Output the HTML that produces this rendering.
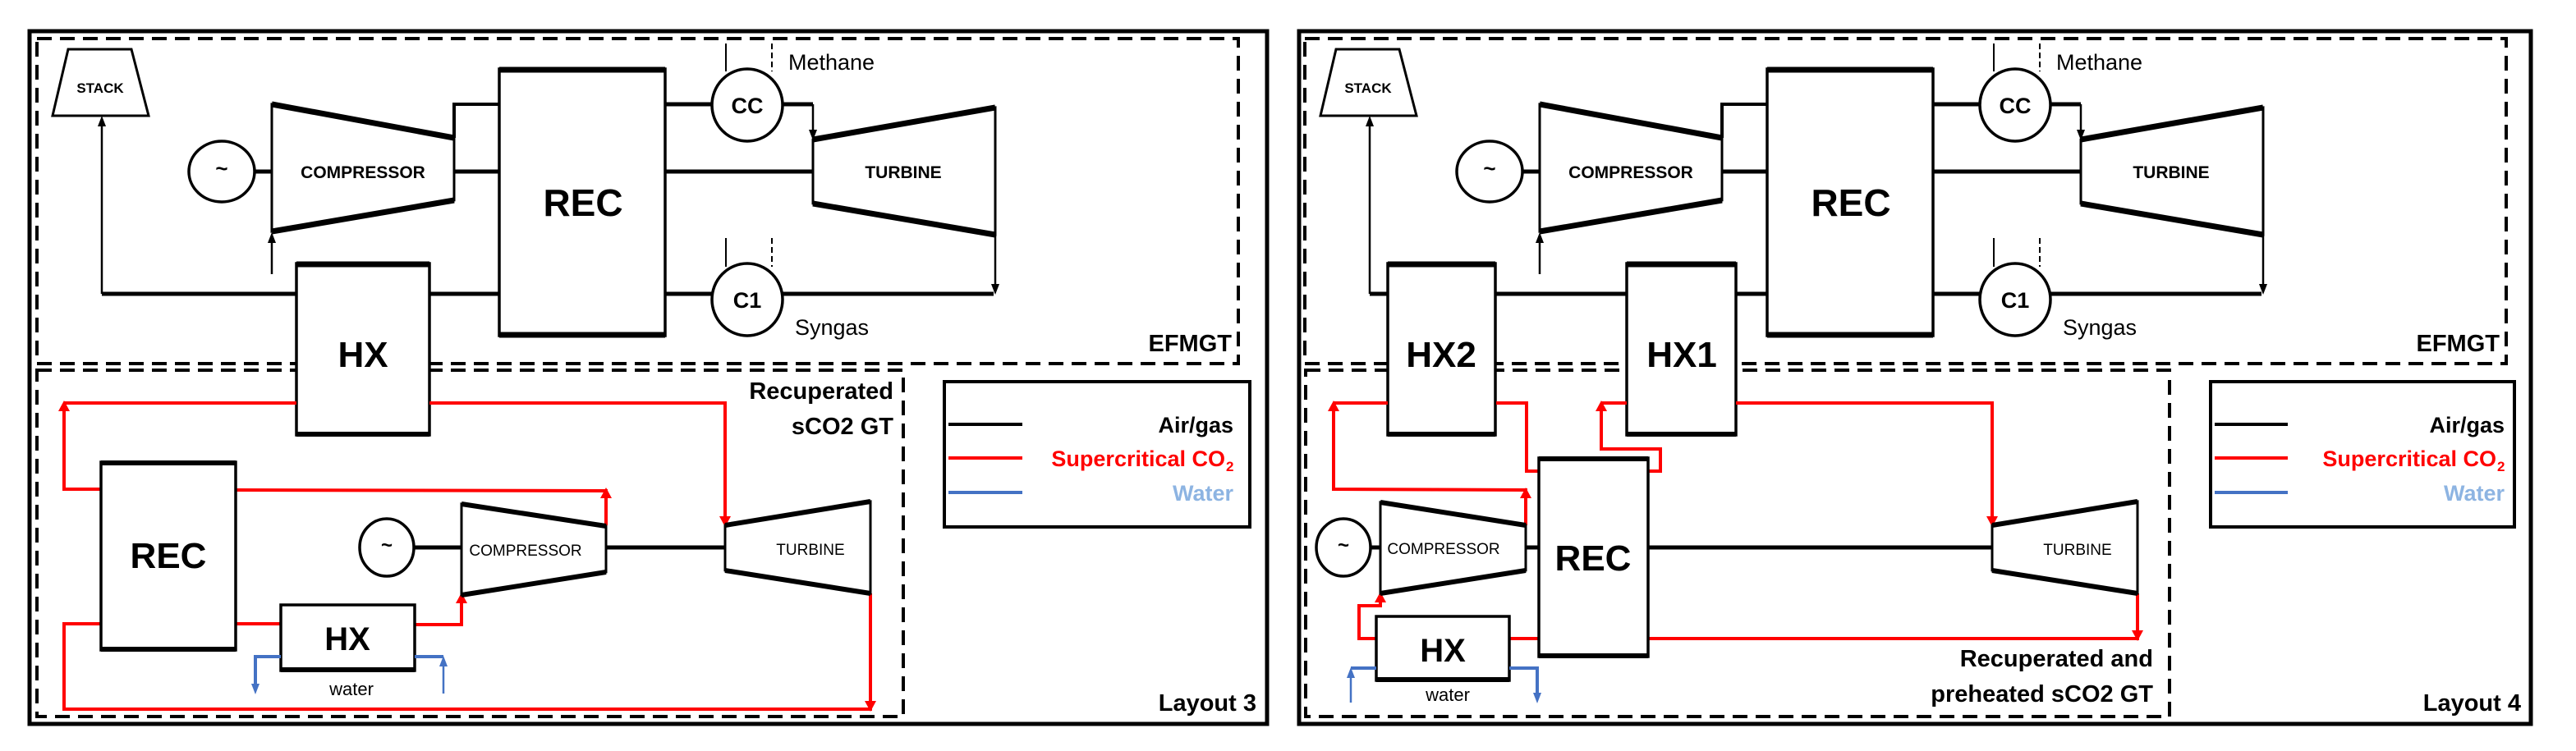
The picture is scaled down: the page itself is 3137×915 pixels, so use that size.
<!DOCTYPE html>
<html><head><meta charset="utf-8"><style>
html,body{margin:0;padding:0;background:#fff;}
svg{display:block;}
text{font-family:"Liberation Sans Narrow","Liberation Sans",sans-serif;}
.b{font-weight:bold;}
</style></head><body>
<svg width="3137" height="915" viewBox="0 0 3137 915" xmlns="http://www.w3.org/2000/svg">
<rect x="0" y="0" width="3137" height="915" fill="#fff"/>

<g transform="translate(0,0)">
 <rect x="45" y="47" width="1463" height="396" fill="none" stroke="#000" stroke-width="4" stroke-dasharray="18 10"/>
 <polygon points="83,60 160,60 181,141 64,141" fill="#fff" stroke="#000" stroke-width="3"/>
 <text x="122" y="113" font-size="17" class="b" text-anchor="middle">STACK</text>
 <line x1="124" y1="358" x2="124" y2="152" stroke="#000" stroke-width="2.5"/>
 <polygon points="124,141 119,154 129,154" fill="#000"/>
 <ellipse cx="270" cy="209" rx="40" ry="37" fill="#fff" stroke="#000" stroke-width="3.5"/>
 <text x="270" y="214" font-size="26" class="b" text-anchor="middle">~</text>
 <line x1="310" y1="209" x2="331" y2="209" stroke="#000" stroke-width="5"/>
 <polygon points="331,127 553,168 553,244 331,282" fill="#fff" stroke="#000" stroke-width="3"/>
 <line x1="331" y1="127" x2="553" y2="168" stroke="#000" stroke-width="7"/>
 <line x1="331" y1="282" x2="553" y2="244" stroke="#000" stroke-width="7"/>
 <text x="442" y="217" font-size="21" class="b" text-anchor="middle">COMPRESSOR</text>
 <line x1="331" y1="334" x2="331" y2="294" stroke="#000" stroke-width="2.5"/>
 <polygon points="331,283 326,296 336,296" fill="#000"/>
 <polyline points="553,168 553,127 608,127" fill="none" stroke="#000" stroke-width="4"/>
 <line x1="553" y1="209" x2="608" y2="209" stroke="#000" stroke-width="5"/>
 <rect x="608" y="84" width="202" height="325" fill="#fff" stroke="#000" stroke-width="3.5"/>
 <line x1="608" y1="85" x2="810" y2="85" stroke="#000" stroke-width="7"/>
 <line x1="608" y1="408" x2="810" y2="408" stroke="#000" stroke-width="7"/>
 <text x="710" y="263" font-size="46" class="b" text-anchor="middle">REC</text>
 <line x1="810" y1="127" x2="868" y2="127" stroke="#000" stroke-width="5"/>
 <line x1="952" y1="127" x2="990" y2="127" stroke="#000" stroke-width="5"/>
 <line x1="990" y1="127" x2="990" y2="160" stroke="#000" stroke-width="2.5"/>
 <polygon points="990,171 985,158 995,158" fill="#000"/>
 <ellipse cx="910" cy="128" rx="43" ry="44" fill="#fff" stroke="#000" stroke-width="3.5"/>
 <text x="910" y="138" font-size="27" class="b" text-anchor="middle">CC</text>
 <line x1="884" y1="53" x2="884" y2="87" stroke="#000" stroke-width="2"/>
 <line x1="940" y1="53" x2="940" y2="87" stroke="#000" stroke-width="2" stroke-dasharray="7 4"/>
 <text x="960" y="85" font-size="27">Methane</text>
 <polygon points="990,170 1212,131 1212,286 990,248" fill="#fff" stroke="#000" stroke-width="3"/>
 <line x1="990" y1="170" x2="1212" y2="131" stroke="#000" stroke-width="7"/>
 <line x1="990" y1="248" x2="1212" y2="286" stroke="#000" stroke-width="7"/>
 <text x="1100" y="217" font-size="21" class="b" text-anchor="middle">TURBINE</text>
 <line x1="810" y1="209" x2="990" y2="209" stroke="#000" stroke-width="5"/>
 <line x1="1212" y1="286" x2="1212" y2="348" stroke="#000" stroke-width="2.5"/>
 <polygon points="1212,359 1207,346 1217,346" fill="#000"/>
 <line x1="810" y1="358" x2="868" y2="358" stroke="#000" stroke-width="5"/>
 <line x1="952" y1="358" x2="1210" y2="358" stroke="#000" stroke-width="5"/>
 <ellipse cx="910" cy="365" rx="43" ry="44" fill="#fff" stroke="#000" stroke-width="3.5"/>
 <text x="910" y="375" font-size="27" class="b" text-anchor="middle">C1</text>
 <line x1="884" y1="290" x2="884" y2="325" stroke="#000" stroke-width="2"/>
 <line x1="940" y1="290" x2="940" y2="325" stroke="#000" stroke-width="2" stroke-dasharray="7 4"/>
 <text x="968" y="408" font-size="27">Syngas</text>
 <text x="1500" y="428" font-size="29" class="b" text-anchor="end">EFMGT</text>
</g>

<g transform="translate(1544,0)">
 <rect x="45" y="47" width="1463" height="396" fill="none" stroke="#000" stroke-width="4" stroke-dasharray="18 10"/>
 <polygon points="83,60 160,60 181,141 64,141" fill="#fff" stroke="#000" stroke-width="3"/>
 <text x="122" y="113" font-size="17" class="b" text-anchor="middle">STACK</text>
 <line x1="124" y1="358" x2="124" y2="152" stroke="#000" stroke-width="2.5"/>
 <polygon points="124,141 119,154 129,154" fill="#000"/>
 <ellipse cx="270" cy="209" rx="40" ry="37" fill="#fff" stroke="#000" stroke-width="3.5"/>
 <text x="270" y="214" font-size="26" class="b" text-anchor="middle">~</text>
 <line x1="310" y1="209" x2="331" y2="209" stroke="#000" stroke-width="5"/>
 <polygon points="331,127 553,168 553,244 331,282" fill="#fff" stroke="#000" stroke-width="3"/>
 <line x1="331" y1="127" x2="553" y2="168" stroke="#000" stroke-width="7"/>
 <line x1="331" y1="282" x2="553" y2="244" stroke="#000" stroke-width="7"/>
 <text x="442" y="217" font-size="21" class="b" text-anchor="middle">COMPRESSOR</text>
 <line x1="331" y1="334" x2="331" y2="294" stroke="#000" stroke-width="2.5"/>
 <polygon points="331,283 326,296 336,296" fill="#000"/>
 <polyline points="553,168 553,127 608,127" fill="none" stroke="#000" stroke-width="4"/>
 <line x1="553" y1="209" x2="608" y2="209" stroke="#000" stroke-width="5"/>
 <rect x="608" y="84" width="202" height="325" fill="#fff" stroke="#000" stroke-width="3.5"/>
 <line x1="608" y1="85" x2="810" y2="85" stroke="#000" stroke-width="7"/>
 <line x1="608" y1="408" x2="810" y2="408" stroke="#000" stroke-width="7"/>
 <text x="710" y="263" font-size="46" class="b" text-anchor="middle">REC</text>
 <line x1="810" y1="127" x2="868" y2="127" stroke="#000" stroke-width="5"/>
 <line x1="952" y1="127" x2="990" y2="127" stroke="#000" stroke-width="5"/>
 <line x1="990" y1="127" x2="990" y2="160" stroke="#000" stroke-width="2.5"/>
 <polygon points="990,171 985,158 995,158" fill="#000"/>
 <ellipse cx="910" cy="128" rx="43" ry="44" fill="#fff" stroke="#000" stroke-width="3.5"/>
 <text x="910" y="138" font-size="27" class="b" text-anchor="middle">CC</text>
 <line x1="884" y1="53" x2="884" y2="87" stroke="#000" stroke-width="2"/>
 <line x1="940" y1="53" x2="940" y2="87" stroke="#000" stroke-width="2" stroke-dasharray="7 4"/>
 <text x="960" y="85" font-size="27">Methane</text>
 <polygon points="990,170 1212,131 1212,286 990,248" fill="#fff" stroke="#000" stroke-width="3"/>
 <line x1="990" y1="170" x2="1212" y2="131" stroke="#000" stroke-width="7"/>
 <line x1="990" y1="248" x2="1212" y2="286" stroke="#000" stroke-width="7"/>
 <text x="1100" y="217" font-size="21" class="b" text-anchor="middle">TURBINE</text>
 <line x1="810" y1="209" x2="990" y2="209" stroke="#000" stroke-width="5"/>
 <line x1="1212" y1="286" x2="1212" y2="348" stroke="#000" stroke-width="2.5"/>
 <polygon points="1212,359 1207,346 1217,346" fill="#000"/>
 <line x1="810" y1="358" x2="868" y2="358" stroke="#000" stroke-width="5"/>
 <line x1="952" y1="358" x2="1210" y2="358" stroke="#000" stroke-width="5"/>
 <ellipse cx="910" cy="365" rx="43" ry="44" fill="#fff" stroke="#000" stroke-width="3.5"/>
 <text x="910" y="375" font-size="27" class="b" text-anchor="middle">C1</text>
 <line x1="884" y1="290" x2="884" y2="325" stroke="#000" stroke-width="2"/>
 <line x1="940" y1="290" x2="940" y2="325" stroke="#000" stroke-width="2" stroke-dasharray="7 4"/>
 <text x="968" y="408" font-size="27">Syngas</text>
 <text x="1500" y="428" font-size="29" class="b" text-anchor="end">EFMGT</text>
</g>

<rect x="36" y="38" width="1507" height="844" fill="none" stroke="#000" stroke-width="5"/>
<rect x="1582" y="38" width="1500" height="844" fill="none" stroke="#000" stroke-width="5"/>

<!-- LEFT lower -->
<rect x="45" y="451" width="1055" height="422" fill="none" stroke="#000" stroke-width="4" stroke-dasharray="18 10"/>
<line x1="124" y1="358" x2="361" y2="358" stroke="#000" stroke-width="5"/>
<line x1="523" y1="358" x2="608" y2="358" stroke="#000" stroke-width="5"/>
<rect x="361" y="321" width="162" height="209" fill="#fff" stroke="#000" stroke-width="3.5"/>
<line x1="361" y1="322" x2="523" y2="322" stroke="#000" stroke-width="7"/>
<line x1="361" y1="529" x2="523" y2="529" stroke="#000" stroke-width="6"/>
<text x="442" y="447" font-size="44" class="b" text-anchor="middle">HX</text>
<text x="1088" y="486" font-size="29" class="b" text-anchor="end">Recuperated</text>
<text x="1088" y="529" font-size="29" class="b" text-anchor="end">sCO2 GT</text>
<g fill="none" stroke="#f00" stroke-width="4">
 <polyline points="123,596 78,596 78,500"/>
 <line x1="78" y1="491" x2="361" y2="491"/>
 <polyline points="523,491 883,491 883,630"/>
 <polyline points="287,597 738,598 738,640"/>
 <polyline points="1060,723 1060,864 78,864 78,760 123,760"/>
 <line x1="287" y1="760" x2="342" y2="760"/>
 <polyline points="505,761 562,761 562,730"/>
</g>
<g fill="#f00">
 <polygon points="78,488 71,501 85,501"/>
 <polygon points="738,594 731,607 745,607"/>
 <polygon points="883,642 876,629 890,629"/>
 <polygon points="1060,867 1053,854 1067,854"/>
 <polygon points="562,722 555,735 569,735"/>
</g>
<rect x="123" y="563" width="164" height="229" fill="#fff" stroke="#000" stroke-width="3.5"/>
<line x1="123" y1="564" x2="287" y2="564" stroke="#000" stroke-width="6"/>
<line x1="123" y1="791" x2="287" y2="791" stroke="#000" stroke-width="6"/>
<text x="205" y="692" font-size="44" class="b" text-anchor="middle">REC</text>
<ellipse cx="471" cy="667" rx="33" ry="35" fill="#fff" stroke="#000" stroke-width="3.5"/>
<text x="471" y="672" font-size="24" class="b" text-anchor="middle">~</text>
<line x1="505" y1="667" x2="562" y2="667" stroke="#000" stroke-width="5"/>
<polygon points="562,614 738,641 738,697 562,725" fill="#fff" stroke="#000" stroke-width="3"/>
<line x1="562" y1="614" x2="738" y2="641" stroke="#000" stroke-width="6"/>
<line x1="562" y1="725" x2="738" y2="697" stroke="#000" stroke-width="6"/>
<text x="640" y="677" font-size="19" text-anchor="middle">COMPRESSOR</text>
<line x1="738" y1="667" x2="883" y2="667" stroke="#000" stroke-width="5"/>
<polygon points="883,640 1060,611 1060,723 883,695" fill="#fff" stroke="#000" stroke-width="3"/>
<line x1="883" y1="640" x2="1060" y2="611" stroke="#000" stroke-width="6"/>
<line x1="883" y1="695" x2="1060" y2="723" stroke="#000" stroke-width="6"/>
<text x="987" y="676" font-size="19" text-anchor="middle">TURBINE</text>
<rect x="342" y="737" width="163" height="80" fill="#fff" stroke="#000" stroke-width="3.5"/>
<line x1="342" y1="816" x2="505" y2="816" stroke="#000" stroke-width="6"/>
<text x="423" y="792" font-size="40" class="b" text-anchor="middle">HX</text>
<g fill="none" stroke="#4472c4" stroke-width="4">
 <polyline points="342,800 311,800 311,835"/>
 <line x1="505" y1="800" x2="540" y2="800"/>
 <line x1="540" y1="845" x2="540" y2="810" stroke-width="2.5"/>
</g>
<polygon points="311,846 306,833 316,833" fill="#4472c4"/>
<polygon points="540,799 535,812 545,812" fill="#4472c4"/>
<text x="428" y="847" font-size="22" text-anchor="middle">water</text>
<rect x="1150" y="465" width="372" height="177" fill="#fff" stroke="#000" stroke-width="4"/>
<line x1="1155" y1="517" x2="1245" y2="517" stroke="#000" stroke-width="4"/>
<line x1="1155" y1="558" x2="1245" y2="558" stroke="#f00" stroke-width="4"/>
<line x1="1155" y1="600" x2="1245" y2="600" stroke="#4472c4" stroke-width="4"/>
<text x="1502" y="527" font-size="27" class="b" text-anchor="end">Air/gas</text>
<text x="1492" y="568" font-size="27" class="b" text-anchor="end" fill="#f00">Supercritical CO</text>
<text x="1493" y="574" font-size="17" class="b" fill="#f00">2</text>
<text x="1502" y="610" font-size="27" class="b" text-anchor="end" fill="#8db4e2">Water</text>
<text x="1530" y="866" font-size="29" class="b" text-anchor="end">Layout 3</text>

<!-- RIGHT lower -->
<rect x="1590" y="451" width="1052" height="422" fill="none" stroke="#000" stroke-width="4" stroke-dasharray="18 10"/>
<line x1="1668" y1="358" x2="1690" y2="358" stroke="#000" stroke-width="5"/>
<line x1="1820" y1="358" x2="1981" y2="358" stroke="#000" stroke-width="5"/>
<line x1="2114" y1="358" x2="2151" y2="358" stroke="#000" stroke-width="5"/>
<rect x="1690" y="321" width="131" height="209" fill="#fff" stroke="#000" stroke-width="3.5"/>
<line x1="1690" y1="322" x2="1821" y2="322" stroke="#000" stroke-width="7"/>
<line x1="1690" y1="529" x2="1821" y2="529" stroke="#000" stroke-width="6"/>
<text x="1755" y="447" font-size="44" class="b" text-anchor="middle">HX2</text>
<rect x="1981" y="321" width="133" height="209" fill="#fff" stroke="#000" stroke-width="3.5"/>
<line x1="1981" y1="322" x2="2114" y2="322" stroke="#000" stroke-width="7"/>
<line x1="1981" y1="529" x2="2114" y2="529" stroke="#000" stroke-width="6"/>
<text x="2048" y="447" font-size="44" class="b" text-anchor="middle">HX1</text>
<g fill="none" stroke="#f00" stroke-width="4">
 <polyline points="1858,640 1858,597 1624,596 1624,500"/>
 <line x1="1624" y1="491" x2="1690" y2="491"/>
 <polyline points="1822,491 1859,491 1859,574 1874,574"/>
 <polyline points="2007,574 2022,574 2022,547 1950,547 1950,500"/>
 <line x1="1950" y1="491" x2="1981" y2="491"/>
 <polyline points="2114,491 2426,491 2426,630"/>
 <polyline points="2603,723 2603,778 2007,778"/>
 <line x1="1838" y1="778" x2="1874" y2="778"/>
 <polyline points="1676,778 1655,778 1655,738 1681,738 1681,728"/>
</g>
<g fill="#f00">
 <polygon points="1624,488 1617,501 1631,501"/>
 <polygon points="1950,488 1943,501 1957,501"/>
 <polygon points="1858,594 1851,607 1865,607"/>
 <polygon points="2426,642 2419,629 2433,629"/>
 <polygon points="2603,781 2596,768 2610,768"/>
 <polygon points="1681,721 1674,734 1688,734"/>
</g>
<rect x="1874" y="558" width="133" height="242" fill="#fff" stroke="#000" stroke-width="3.5"/>
<line x1="1874" y1="559" x2="2007" y2="559" stroke="#000" stroke-width="6"/>
<line x1="1874" y1="799" x2="2007" y2="799" stroke="#000" stroke-width="6"/>
<text x="1940" y="695" font-size="44" class="b" text-anchor="middle">REC</text>
<ellipse cx="1636" cy="667" rx="33" ry="35" fill="#fff" stroke="#000" stroke-width="3.5"/>
<text x="1636" y="672" font-size="24" class="b" text-anchor="middle">~</text>
<line x1="1669" y1="667" x2="1681" y2="667" stroke="#000" stroke-width="5"/>
<polygon points="1681,612 1858,640 1858,695 1681,723" fill="#fff" stroke="#000" stroke-width="3"/>
<line x1="1681" y1="612" x2="1858" y2="640" stroke="#000" stroke-width="6"/>
<line x1="1681" y1="723" x2="1858" y2="695" stroke="#000" stroke-width="6"/>
<text x="1758" y="675" font-size="19" text-anchor="middle">COMPRESSOR</text>
<line x1="1858" y1="667" x2="1874" y2="667" stroke="#000" stroke-width="5"/>
<line x1="2007" y1="667" x2="2426" y2="667" stroke="#000" stroke-width="5"/>
<polygon points="2426,640 2603,611 2603,723 2426,695" fill="#fff" stroke="#000" stroke-width="3"/>
<line x1="2426" y1="640" x2="2603" y2="611" stroke="#000" stroke-width="6"/>
<line x1="2426" y1="695" x2="2603" y2="723" stroke="#000" stroke-width="6"/>
<text x="2530" y="676" font-size="19" text-anchor="middle">TURBINE</text>
<rect x="1676" y="751" width="162" height="78" fill="#fff" stroke="#000" stroke-width="3.5"/>
<line x1="1676" y1="828" x2="1838" y2="828" stroke="#000" stroke-width="6"/>
<text x="1757" y="806" font-size="40" class="b" text-anchor="middle">HX</text>
<g fill="none" stroke="#4472c4" stroke-width="4">
 <line x1="1676" y1="814" x2="1645" y2="814"/>
 <line x1="1645" y1="856" x2="1645" y2="824" stroke-width="2.5"/>
 <polyline points="1838,814 1872,814 1872,845"/>
</g>
<polygon points="1645,813 1640,826 1650,826" fill="#4472c4"/>
<polygon points="1872,857 1867,844 1877,844" fill="#4472c4"/>
<text x="1763" y="854" font-size="22" text-anchor="middle">water</text>
<text x="2622" y="812" font-size="29" class="b" text-anchor="end">Recuperated and</text>
<text x="2622" y="855" font-size="29" class="b" text-anchor="end">preheated sCO2 GT</text>
<rect x="2692" y="465" width="370" height="177" fill="#fff" stroke="#000" stroke-width="4"/>
<line x1="2697" y1="517" x2="2786" y2="517" stroke="#000" stroke-width="4"/>
<line x1="2697" y1="558" x2="2786" y2="558" stroke="#f00" stroke-width="4"/>
<line x1="2697" y1="600" x2="2786" y2="600" stroke="#4472c4" stroke-width="4"/>
<text x="3050" y="527" font-size="27" class="b" text-anchor="end">Air/gas</text>
<text x="3040" y="568" font-size="27" class="b" text-anchor="end" fill="#f00">Supercritical CO</text>
<text x="3041" y="574" font-size="17" class="b" fill="#f00">2</text>
<text x="3050" y="610" font-size="27" class="b" text-anchor="end" fill="#8db4e2">Water</text>
<text x="3070" y="866" font-size="29" class="b" text-anchor="end">Layout 4</text>
</svg>
</body></html>
